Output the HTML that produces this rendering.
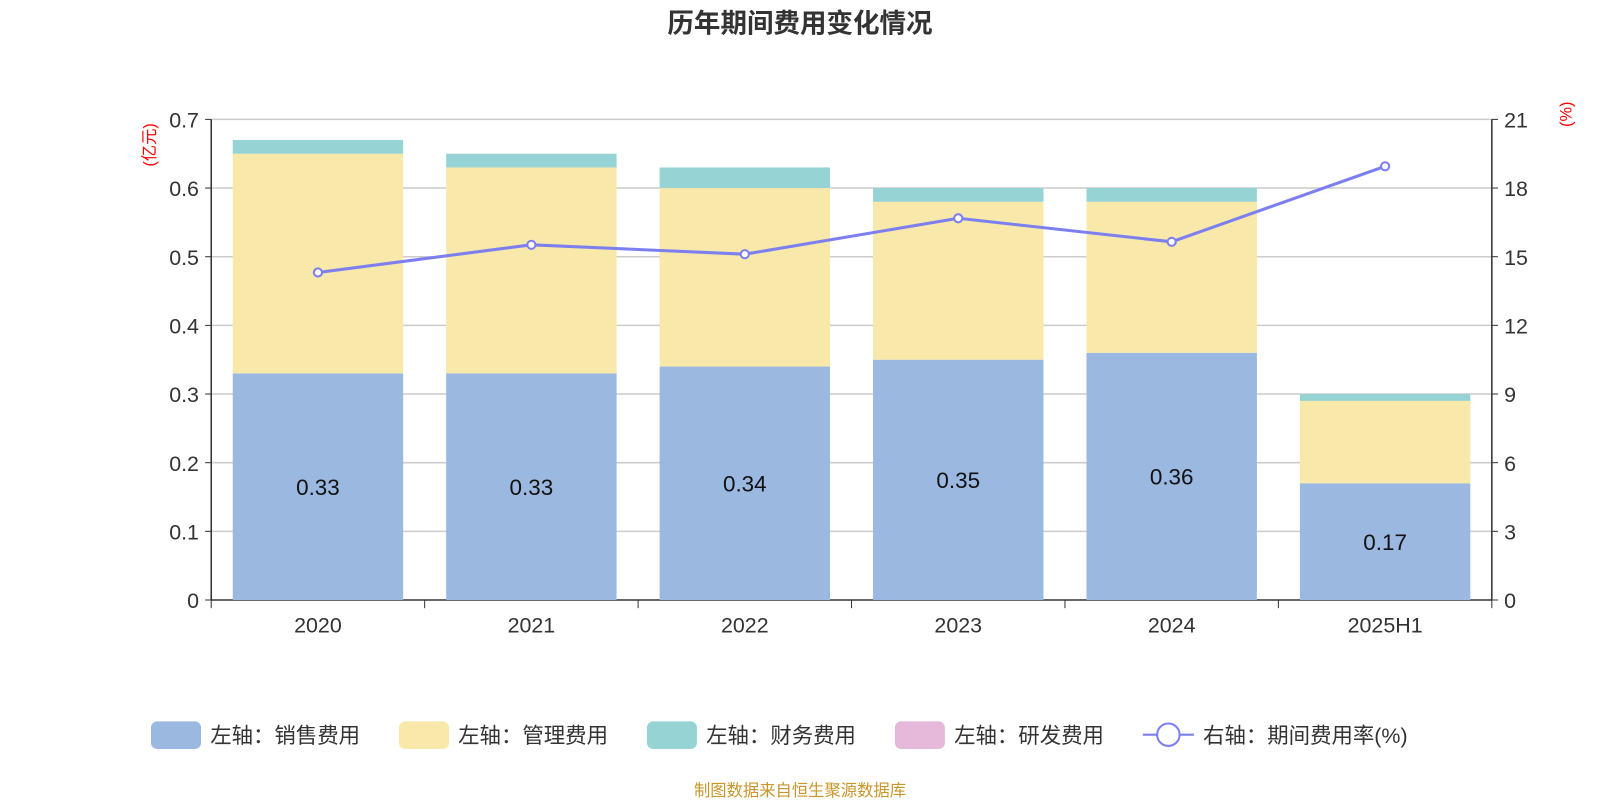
<!DOCTYPE html>
<html><head><meta charset="utf-8"><style>
body{margin:0;background:#fff;}
svg text{font-family:"Liberation Sans","Noto Sans CJK SC",sans-serif;}
</style></head><body>
<svg id="c" width="1600" height="800" viewBox="0 0 1568 784" xmlns="http://www.w3.org/2000/svg"></svg>
<script>
const categories=["2020","2021","2022","2023","2024","2025H1"];
const sales=[0.33,0.33,0.34,0.35,0.36,0.17];
const mgmt=[0.32,0.30,0.26,0.23,0.22,0.12];
const fin=[0.02,0.02,0.03,0.02,0.02,0.01];
const rnd=[0,0,0,0,0,0];
const rate=[14.31,15.52,15.11,16.68,15.65,18.95];
const leftTicks=["0","0.1","0.2","0.3","0.4","0.5","0.6","0.7"];
const rightTicks=["0","3","6","9","12","15","18","21"];
const NS="http://www.w3.org/2000/svg";
const svg=document.getElementById('c');
function el(t,a,txt){const e=document.createElementNS(NS,t);for(const k in a)e.setAttribute(k,a[k]);if(txt!==undefined)e.textContent=txt;svg.appendChild(e);return e;}
const X0=207,X1=1462,Y0=588,Y1=117;
const yL=v=>Y0-(v/0.7)*(Y0-Y1);
const yR=v=>Y0-(v/21)*(Y0-Y1);
const band=(X1-X0)/categories.length;
const xC=i=>X0+band*(i+0.5);
const bw=167;
let t=el('text',{x:784,y:32,'text-anchor':'middle','font-size':26,'font-weight':'bold',fill:'#333'},'历年期间费用变化情况');

for(let i=0;i<leftTicks.length;i++){
 const y=Y0-i*(Y0-Y1)/7;
 if(i>0){let g=el('line',{x1:X0,x2:X1,y1:y,y2:y,stroke:'#ccc','stroke-width':1.5});}
 let a=el('text',{x:X0-12,y:y+8,'text-anchor':'end','font-size':21,fill:'#333'},leftTicks[i]);
 
 let b=el('text',{x:X1+12,y:y+8,'text-anchor':'start','font-size':21,fill:'#333'},rightTicks[i]);
 
 el('line',{x1:X0-6,x2:X0,y1:y,y2:y,stroke:'#333'});el('line',{x1:X1,x2:X1+6,y1:y,y2:y,stroke:'#333'});
}
el('line',{x1:X0,x2:X0,y1:Y1,y2:Y0,stroke:'#333','stroke-width':1.5});
el('line',{x1:X1,x2:X1,y1:Y1,y2:Y0,stroke:'#333','stroke-width':1.5});
el('line',{x1:X0,x2:X1,y1:Y0,y2:Y0,stroke:'#333','stroke-width':1.5});
let u=el('text',{x:152,y:142,'text-anchor':'middle','font-size':16,fill:'red',transform:'rotate(-90 152 142)'},'(亿元)');

let u2=el('text',{x:1540,y:112,'text-anchor':'middle','font-size':16,fill:'red',transform:'rotate(-90 1540 112)'},'(%)');

for(let i=0;i<=categories.length;i++){const x=X0+band*i;el('line',{x1:x,x2:x,y1:Y0,y2:Y0+8,stroke:'#333'});}
categories.forEach((c,i)=>{
 let l=el('text',{x:xC(i),y:Y0+32,'text-anchor':'middle','font-size':21,fill:'#333'},c);
 
 const x=xC(i)-bw/2;let base=0;
 [[sales,'#9bb8e1','bar-sales'],[mgmt,'#f8e8a9','bar-management'],[fin,'#96d3d4','bar-finance'],[rnd,'#e6b8d9','bar-rnd']].forEach(([arr,col,nm])=>{
  const v=arr[i];if(v<=0)return;
  let r=el('rect',{x:x,y:yL(base+v),width:bw,height:yL(base)-yL(base+v),fill:col});
  
  base+=v;
 });
 let v=el('text',{x:xC(i),y:(yL(0)+yL(sales[i]))/2+8,'text-anchor':'middle','font-size':22,fill:'#111'},sales[i].toFixed(2));
 
});
let pts=rate.map((v,i)=>xC(i)+','+yR(v)).join(' ');
let pl=el('polyline',{points:pts,fill:'none',stroke:'#7b7ff0','stroke-width':3});

rate.forEach((v,i)=>{let p=el('circle',{cx:xC(i),cy:yR(v),r:4,fill:'#fff',stroke:'#7b7ff0','stroke-width':2});
 });
const leg=[['左轴：销售费用','#9bb8e1',148],['左轴：管理费用','#f8e8a9',391],['左轴：财务费用','#96d3d4',634],['左轴：研发费用','#e6b8d9',877]];
leg.forEach(([n,c,x])=>{
 let r=el('rect',{x:x,y:707,width:49,height:27,rx:6,fill:c});
 let tt=el('text',{x:x+58,y:728,'font-size':21,fill:'#333'},n);
});
el('line',{x1:1120,x2:1170,y1:720,y2:720,stroke:'#7b7ff0','stroke-width':2});
let lc=el('circle',{cx:1145,cy:720,r:11,fill:'#fff',stroke:'#7b7ff0','stroke-width':2});
let lt=el('text',{x:1179,y:728,'font-size':21,fill:'#333'},'右轴：期间费用率(%)');
let s=el('text',{x:784,y:780,'text-anchor':'middle','font-size':16,fill:'#c8962a'},'制图数据来自恒生聚源数据库');

</script>
</body></html>
